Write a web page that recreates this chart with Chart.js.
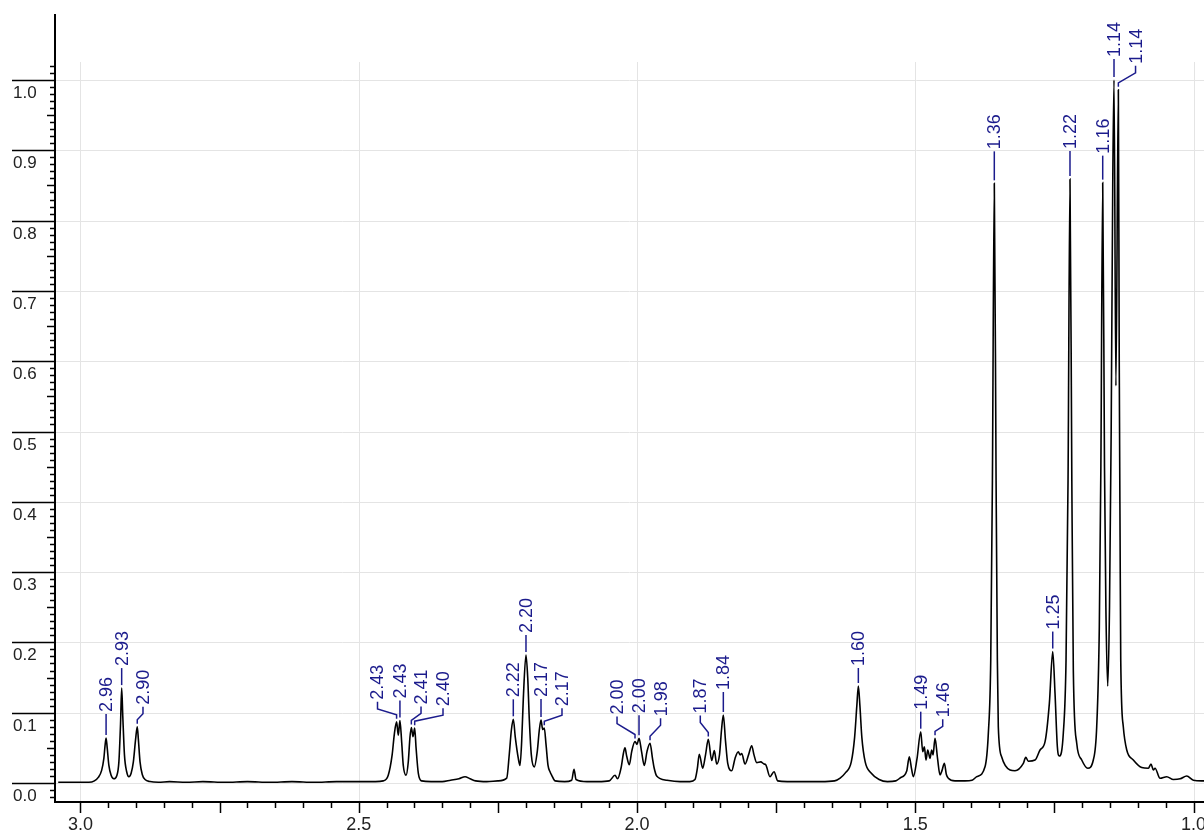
<!DOCTYPE html>
<html>
<head>
<meta charset="utf-8">
<title>1H NMR spectrum</title>
<script src="https://cdn.jsdelivr.net/npm/chart.js"></script>
<style>
  body { margin: 0; background: #fff; }
  #wrap { width: 1204px; height: 835px; }
</style>
</head>
<body>
<div id="wrap"><canvas id="nmr" width="1204" height="835"></canvas></div>
<script>
// chemical shift (ppm) and relative intensity
const shifts = [
  3.04, 3.00, 2.985, 2.975, 2.968, 2.962, 2.958, 2.956, 2.954, 2.952, 2.949, 2.945, 2.940, 2.935, 2.931, 2.928,
  2.926, 2.924, 2.921, 2.917, 2.913, 2.909, 2.905, 2.901, 2.898, 2.896, 2.893, 2.889, 2.884, 2.875, 2.86,
  2.84, 2.81, 2.78, 2.74, 2.70, 2.66, 2.62, 2.58, 2.54, 2.50, 2.47,
  2.456, 2.447, 2.440, 2.436, 2.432, 2.429, 2.426, 2.423, 2.420, 2.415, 2.411, 2.408, 2.4055, 2.4025, 2.3995,
  2.397, 2.393, 2.387, 2.37, 2.35, 2.335, 2.32, 2.309, 2.30, 2.29, 2.27, 2.25,
  2.2341, 2.2294, 2.2258, 2.2223, 2.2187, 2.2133, 2.2103, 2.2072, 2.2043, 2.1995, 2.1964, 2.1935, 2.1899, 2.1846,
  2.1792, 2.1756, 2.1725, 2.1695, 2.1666, 2.1635, 2.1599, 2.1563, 2.1533, 2.1473, 2.13, 2.1174, 2.1132, 2.1096,
  2.09, 2.07, 2.05, 2.0395, 2.035, 2.0285, 2.0245, 2.0216, 2.0185, 2.0138, 2.0095, 2.0036, 2.0000, 1.9964,
  1.9919, 1.9869, 1.9820, 1.9766, 1.9722, 1.9694, 1.9646, 1.9461, 1.9227, 1.905,
  1.8958, 1.8917, 1.8881, 1.8820, 1.8769, 1.8719, 1.8658, 1.8611, 1.8568, 1.8518, 1.8482, 1.8449, 1.8410, 1.8370,
  1.8298, 1.8239, 1.8180, 1.8149, 1.8119, 1.8059, 1.7996, 1.7939, 1.7898, 1.7849, 1.7777, 1.7718, 1.7687, 1.7610,
  1.7538, 1.7472, 1.73, 1.70, 1.67, 1.645, 1.635, 1.626, 1.615, 1.609, 1.605, 1.6023, 1.5995, 1.596, 1.590,
  1.579, 1.565, 1.55, 1.535, 1.5275, 1.5154, 1.5107, 1.5067, 1.5035, 1.4968, 1.4902, 1.4866, 1.4837, 1.4807,
  1.4776, 1.4735, 1.4705, 1.4681, 1.4645, 1.4600, 1.4555, 1.4519, 1.4477, 1.4441, 1.4406, 1.4286, 1.4106, 1.3980,
  1.3896, 1.3747, 1.3687, 1.3644, 1.3614, 1.358, 1.3548, 1.3525, 1.3508, 1.3447, 1.3297, 1.3208, 1.3058, 1.3015,
  1.2969, 1.2848, 1.2758, 1.2668, 1.2591, 1.2530, 1.2489, 1.2447, 1.2411, 1.2340, 1.2291, 1.2255, 1.2220, 1.2187,
  1.2160, 1.2099, 1.2009, 1.1901, 1.1801, 1.1740, 1.1693, 1.1665, 1.1632, 1.1600, 1.1575, 1.1542, 1.1510, 1.1480,
  1.1452, 1.1429, 1.1395, 1.1351, 1.1335, 1.1320, 1.1308, 1.1262, 1.1200, 1.1082, 1.0931, 1.0812, 1.0764, 1.0722,
  1.0692, 1.0602, 1.0481, 1.0362, 1.0240, 1.0122, 1.0003, 0.981
];
const intensities = [
  0.001, 0.001, 0.001, 0.003, 0.008, 0.018, 0.035, 0.052, 0.064, 0.050, 0.025, 0.011, 0.006, 0.010, 0.030, 0.085,
  0.135, 0.095, 0.040, 0.016, 0.009, 0.014, 0.030, 0.062, 0.080, 0.062, 0.030, 0.012, 0.005, 0.002, 0.001,
  0.002, 0.001, 0.002, 0.001, 0.002, 0.001, 0.002, 0.001, 0.002, 0.002, 0.002,
  0.003, 0.011, 0.040, 0.070, 0.087, 0.068, 0.089, 0.060, 0.025, 0.011, 0.030, 0.065, 0.079, 0.066, 0.078,
  0.050, 0.014, 0.003, 0.002, 0.002, 0.004, 0.006, 0.009, 0.006, 0.003, 0.002, 0.003,
  0.007, 0.042, 0.075, 0.0906, 0.065, 0.035, 0.025, 0.060, 0.120, 0.182, 0.150, 0.090, 0.040, 0.023,
  0.045, 0.075, 0.0896, 0.076, 0.078, 0.055, 0.025, 0.016, 0.011, 0.003, 0.002, 0.004, 0.0195, 0.005,
  0.002, 0.002, 0.003, 0.011, 0.006, 0.022, 0.042, 0.050, 0.038, 0.026, 0.045, 0.059, 0.055, 0.0636,
  0.045, 0.025, 0.045, 0.0565, 0.035, 0.022, 0.010, 0.004, 0.002, 0.002,
  0.005, 0.020, 0.041, 0.021, 0.040, 0.062, 0.032, 0.046, 0.027, 0.040, 0.075, 0.0967, 0.060, 0.028,
  0.0175, 0.035, 0.0445, 0.040, 0.042, 0.027, 0.040, 0.053, 0.040, 0.029, 0.030, 0.027, 0.026, 0.009,
  0.016, 0.003, 0.002, 0.002, 0.002, 0.003, 0.007, 0.014, 0.030, 0.065, 0.110, 0.138, 0.110, 0.065, 0.030,
  0.014, 0.005, 0.002, 0.003, 0.007, 0.017, 0.0374, 0.020, 0.009, 0.035, 0.073, 0.0445, 0.0516, 0.0327,
  0.047, 0.035, 0.047, 0.040, 0.0636, 0.035, 0.0114, 0.018, 0.028, 0.012, 0.0067, 0.003, 0.003, 0.004,
  0.009, 0.023, 0.071, 0.175, 0.430, 0.853, 0.430, 0.175, 0.080, 0.037, 0.0185, 0.0175, 0.028, 0.0365,
  0.031, 0.0327, 0.047, 0.0588, 0.113, 0.187, 0.1276, 0.0516, 0.0384, 0.0707, 0.175, 0.430, 0.859, 0.430,
  0.160, 0.0565, 0.0327, 0.021, 0.0327, 0.080, 0.222, 0.450, 0.854, 0.450, 0.250, 0.138, 0.250, 0.500,
  0.850, 1.000, 0.565, 0.986, 0.600, 0.350, 0.175, 0.080, 0.047, 0.0327, 0.022, 0.021, 0.027, 0.0185,
  0.021, 0.0067, 0.009, 0.005, 0.006, 0.010, 0.004, 0.003
];

// peak picks: label text, peak shift, shift of the label column
const peakTexts  = ['2.96', '2.93', '2.90', '2.43', '2.43', '2.41', '2.40', '2.22', '2.20', '2.17', '2.17', '2.00', '2.00',
                    '1.98', '1.87', '1.84', '1.60', '1.49', '1.46', '1.36', '1.25', '1.22', '1.16', '1.14', '1.14'];
const peakShifts = [2.954, 2.926, 2.898, 2.432, 2.426, 2.4055, 2.3995, 2.2223, 2.1995, 2.1725, 2.1666, 2.0036, 1.9964,
                    1.9766, 1.8719, 1.8449, 1.6023, 1.4902, 1.4645, 1.358, 1.2530, 1.2220, 1.1632, 1.1429, 1.1351];
const labelShifts = [2.954, 2.926, 2.8877, 2.4663, 2.426, 2.3881, 2.3486, 2.2223, 2.1995, 2.1725, 2.1348, 2.0359, 1.9964,
                    1.9577, 1.8863, 1.8449, 1.6023, 1.4902, 1.4507, 1.358, 1.2530, 1.2220, 1.1632, 1.1429, 1.1042];
// pixel rise from peak top to the label foot
const labelRise = [25, 21, 21, 21, 21, 22, 21, 21, 21, 22, 21, 26, 24, 26, 25, 24, 19, 21, 20, 33, 21, 29, 28, 22, 25];

const xTickLabels = ['3.0', '2.5', '2.0', '1.5', '1.0'];
const yTickLabels = ['0.0', '0.1', '0.2', '0.3', '0.4', '0.5', '0.6', '0.7', '0.8', '0.9', '1.0'];

const labelColor = '#1b1b8c';
const gridColor = '#e4e4e4';

function intensityAt(ppm) {
  let best = 0;
  for (let i = 1; i < shifts.length; i++) {
    if (Math.abs(shifts[i] - ppm) < Math.abs(shifts[best] - ppm)) best = i;
  }
  return intensities[best];
}

const nmrFrame = {
  id: 'nmrFrame',
  beforeDatasetsDraw(chart) {
    const { ctx, chartArea: a, scales: { x, y } } = chart;
    ctx.save();
    ctx.strokeStyle = gridColor;
    ctx.lineWidth = 1;
    yTickLabels.forEach(t => {
      const py = Math.round(y.getPixelForValue(parseFloat(t))) + 0.5;
      ctx.beginPath(); ctx.moveTo(a.left, py); ctx.lineTo(a.right, py); ctx.stroke();
    });
    xTickLabels.forEach(t => {
      const px = Math.round(x.getPixelForValue(parseFloat(t))) + 0.5;
      ctx.beginPath(); ctx.moveTo(px, a.top); ctx.lineTo(px, a.bottom); ctx.stroke();
    });
    ctx.restore();
  },
  afterDatasetsDraw(chart) {
    const { ctx, chartArea: a, scales: { x, y } } = chart;
    ctx.save();
    ctx.strokeStyle = '#000';
    ctx.fillStyle = '#222';

    // y ticks
    ctx.lineWidth = 1.5;
    for (let i = -2; i <= 102; i++) {
      const py = Math.round(y.getPixelForValue(i / 100)) + 0.5;
      let x0;
      if (i % 10 === 0) x0 = 12; else if (i % 5 === 0) x0 = a.left - 8; else x0 = a.left - 5;
      ctx.beginPath(); ctx.moveTo(x0, py); ctx.lineTo(a.left, py); ctx.stroke();
    }
    ctx.font = '17px "Liberation Sans", Arial, sans-serif';
    ctx.textAlign = 'left';
    ctx.textBaseline = 'alphabetic';
    yTickLabels.forEach(t => {
      const py = y.getPixelForValue(parseFloat(t));
      ctx.fillText(t, 13, py + 18);
    });

    // x ticks
    for (let k = 20; k <= 60; k++) {
      const v = k * 0.05;
      if (v < x.min || v > x.max) continue;
      const px = Math.round(x.getPixelForValue(v)) + 0.5;
      const len = (k % 5 === 0) ? 12 : 7;
      ctx.beginPath(); ctx.moveTo(px, a.bottom); ctx.lineTo(px, a.bottom + len); ctx.stroke();
    }
    ctx.font = '18px "Liberation Sans", Arial, sans-serif';
    ctx.textAlign = 'center';
    xTickLabels.forEach(t => {
      ctx.fillText(t, x.getPixelForValue(parseFloat(t)), a.bottom + 29);
    });

    // axis lines
    ctx.lineWidth = 2;
    ctx.beginPath(); ctx.moveTo(a.left, 14); ctx.lineTo(a.left, a.bottom + 1); ctx.lineTo(a.right, a.bottom + 1); ctx.stroke();

    // peak labels
    ctx.strokeStyle = labelColor;
    ctx.fillStyle = labelColor;
    ctx.lineWidth = 1.5;
    ctx.font = '18px "Liberation Sans", Arial, sans-serif';
    peakTexts.forEach((t, i) => {
      const xp = x.getPixelForValue(peakShifts[i]);
      const yp = y.getPixelForValue(intensityAt(peakShifts[i]));
      const xl = x.getPixelForValue(labelShifts[i]);
      const yt = yp - labelRise[i];
      ctx.beginPath();
      if (Math.abs(xl - xp) < 1.5) {
        ctx.moveTo(xl, yp - 3);
        ctx.lineTo(xl, yt + 1);
      } else {
        ctx.moveTo(xp, yp - 3);
        ctx.lineTo(xp, yp - 7);
        ctx.lineTo(xl, yt + 8);
        ctx.lineTo(xl, yt + 1);
      }
      ctx.stroke();
      ctx.save();
      ctx.translate(xl + 1, yt);
      ctx.rotate(-Math.PI / 2);
      ctx.textAlign = 'left';
      ctx.textBaseline = 'middle';
      ctx.fillText(t, 1, 0);
      ctx.restore();
    });
    ctx.restore();
  }
};

new Chart(document.getElementById('nmr').getContext('2d'), {
  type: 'scatter',
  data: {
    datasets: [{
      data: shifts.map((s, i) => ({ x: s, y: intensities[i] })),
      showLine: true,
      borderColor: '#000',
      borderWidth: 1.6,
      pointRadius: 0,
      cubicInterpolationMode: 'monotone',
      fill: false
    }]
  },
  options: {
    responsive: false,
    animation: false,
    layout: { padding: { left: 55, right: 0, top: 62, bottom: 34 } },
    plugins: { legend: { display: false }, tooltip: { enabled: false } },
    scales: {
      x: { type: 'linear', reverse: true, min: 0.9812, max: 3.0458, display: false },
      y: { min: -0.0256, max: 1.0256, display: false }
    }
  },
  plugins: [nmrFrame]
});
</script>
</body>
</html>
